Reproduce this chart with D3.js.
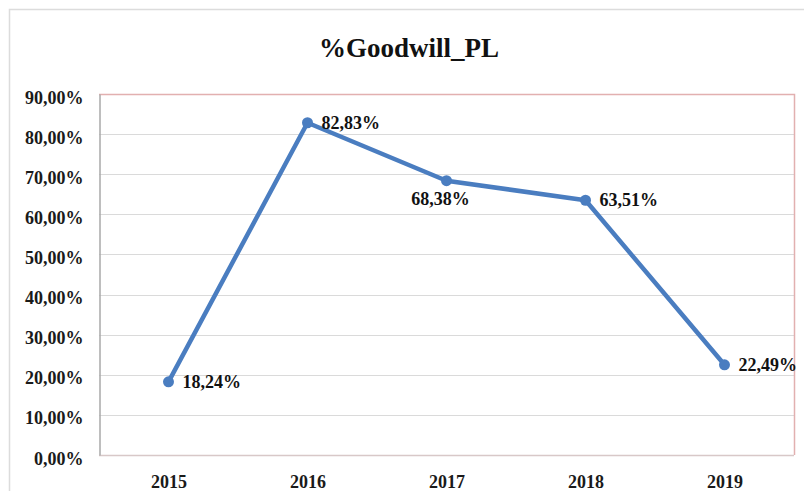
<!DOCTYPE html>
<html>
<head>
<meta charset="utf-8">
<script src="https://cdn.jsdelivr.net/npm/d3@7"></script>
<style>
  html, body { margin: 0; padding: 0; background: #fff; }
  svg { display: block; }
  .serif { font-family: "Liberation Serif", "Times New Roman", Tinos, Times, serif; font-weight: bold; }
</style>
</head>
<body>
<svg id="chart" width="804" height="491"></svg>
<script>
// Share of goodwill, by year
const years = ["2015", "2016", "2017", "2018", "2019"];
const goodwillPct = [18.24, 82.83, 68.38, 63.51, 22.49];
const yTicks = [0, 10, 20, 30, 40, 50, 60, 70, 80, 90];
const labelPlacement = ["right", "right", "below", "right", "right"];

const svg = d3.select("#chart");
const W = 804, H = 491;
const plot = { left: 99, right: 794, top: 94, bottom: 455 };
const fmt = v => v.toFixed(2).replace(".", ",") + "%";

// outer chart frame
svg.append("path")
  .attr("d", `M9.5,${H} V9.5 H${W}`)
  .attr("fill", "none").attr("stroke", "#dcdcdc").attr("stroke-width", 1.5);

// title
svg.append("text")
  .attr("class", "serif")
  .attr("x", 409).attr("y", 57)
  .attr("text-anchor", "middle")
  .attr("font-size", 27)
  .attr("fill", "#111")
  .text("%Goodwill_PL");

const x = d3.scalePoint().domain(years).range([plot.left, plot.right]).padding(0.5);
const y = d3.scaleLinear().domain([0, 90]).range([plot.bottom, plot.top]);

// gridlines
svg.append("g").selectAll("line").data(yTicks.filter(t => t > 0 && t < 90)).join("line")
  .attr("x1", plot.left).attr("x2", plot.right)
  .attr("y1", d => Math.round(y(d)) + 0.5).attr("y2", d => Math.round(y(d)) + 0.5)
  .attr("stroke", "#dadada").attr("stroke-width", 1.2);

// plot border: top and right in a soft red, left and bottom grey
svg.append("path")
  .attr("d", `M${plot.left},${plot.top + 0.5} H${plot.right + 0.5} V${plot.bottom}`)
  .attr("fill", "none").attr("stroke", "#e2b0b0").attr("stroke-width", 1.5);
svg.append("line")
  .attr("x1", plot.left).attr("x2", plot.right)
  .attr("y1", plot.bottom + 0.5).attr("y2", plot.bottom + 0.5)
  .attr("stroke", "#d8c8c8").attr("stroke-width", 1.5);

// y axis
const yAxis = svg.append("g")
  .attr("transform", `translate(${plot.left + 0.5},0)`)
  .call(d3.axisLeft(y).tickValues(yTicks).tickSize(0).tickPadding(16).tickFormat(fmt));
yAxis.select(".domain").attr("stroke", "#a8a8a8").attr("stroke-width", 1.5);
yAxis.selectAll("text")
  .attr("class", "serif")
  .attr("dy", "0.5em")
  .attr("font-size", 18)
  .attr("fill", "#1a1a1a");

// x axis
const xAxis = svg.append("g")
  .attr("transform", `translate(0,${plot.bottom})`)
  .call(d3.axisBottom(x).tickSize(0).tickPadding(20));
xAxis.select(".domain").remove();
xAxis.selectAll("text")
  .attr("class", "serif")
  .attr("font-size", 18)
  .attr("fill", "#1a1a1a");

const data = years.map((yr, i) => ({ yr, v: goodwillPct[i], pos: labelPlacement[i] }));

// series line
svg.append("path")
  .datum(data)
  .attr("d", d3.line().x(d => x(d.yr)).y(d => y(d.v)))
  .attr("fill", "none")
  .attr("stroke", "#4a7dc0")
  .attr("stroke-width", 4.5)
  .attr("stroke-linejoin", "round");

// markers
svg.append("g").selectAll("circle").data(data).join("circle")
  .attr("cx", d => x(d.yr)).attr("cy", d => y(d.v))
  .attr("r", 5.5)
  .attr("fill", "#4a7dc0");

// value labels
svg.append("g").selectAll("text").data(data).join("text")
  .attr("class", "serif")
  .attr("x", d => d.pos === "below" ? x(d.yr) - 6 : x(d.yr) + 14)
  .attr("y", d => d.pos === "below" ? y(d.v) + 24 : y(d.v) + 6)
  .attr("text-anchor", d => d.pos === "below" ? "middle" : "start")
  .attr("font-size", 18)
  .attr("fill", "#111")
  .text(d => fmt(d.v));
</script>
</body>
</html>
